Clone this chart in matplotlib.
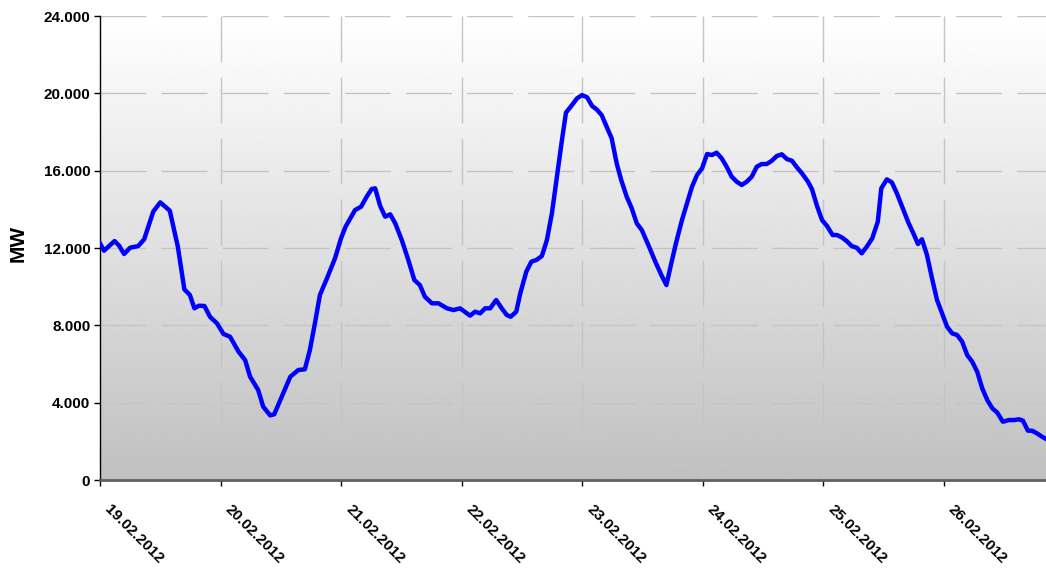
import numpy as np
import matplotlib
matplotlib.use('Agg')
import matplotlib.pyplot as plt
import matplotlib.transforms as mtransforms

plt.rcParams['font.family'] = ['Liberation Sans', 'DejaVu Sans']

# hours since 19.02.2012 00:00 and load in MW
hours = [0.0, 0.8, 2.9, 3.8, 4.8, 6.0, 7.6, 8.8, 10.6, 12.0, 13.9, 15.5, 16.8, 17.9,
         18.8, 19.7, 20.8, 21.9, 23.3, 24.6, 25.9, 27.6, 28.9, 29.9, 31.5, 32.5, 33.9,
         34.7, 36.5, 37.9, 39.5, 40.8, 41.8, 42.8, 43.8, 45.2, 46.8, 48.0, 48.9, 50.8,
         52.0, 53.1, 54.1, 54.8, 55.8, 56.8, 57.8, 58.8, 60.1, 61.4, 62.6, 63.7, 64.7,
         66.1, 67.4, 69.1, 70.4, 71.7, 73.7, 74.7, 75.7, 76.7, 77.7, 78.9, 80.0, 81.0,
         81.8, 82.9, 83.7, 84.9, 85.9, 86.9, 88.0, 89.0, 90.0, 91.0, 92.0, 92.8, 94.0,
         95.0, 96.0, 97.0, 98.0, 98.9, 99.9, 100.9, 101.9, 102.9, 103.8, 104.9, 105.9,
         106.9, 107.9, 109.2, 110.6, 111.8, 112.8, 113.7, 114.7, 115.9, 116.9, 117.9,
         118.9, 119.9, 120.9, 121.9, 122.8, 123.8, 124.8, 125.8, 126.8, 127.8, 128.8,
         129.8, 130.8, 131.8, 132.8, 133.8, 134.8, 135.8, 136.8, 137.8, 138.8, 139.8,
         141.0, 141.8, 142.8, 143.8, 144.8, 145.9, 146.8, 147.8, 148.7, 149.7, 150.7,
         151.7, 152.7, 153.8, 154.9, 155.6, 156.7, 157.7, 158.7, 160.0, 161.0, 162.0,
         162.9, 163.7, 164.7, 165.7, 166.7, 167.7, 168.7, 169.7, 170.7, 171.7, 172.7,
         173.7, 174.7, 175.7, 176.7, 177.7, 178.7, 179.8, 181.0, 182.0, 183.0, 183.8,
         184.8, 185.6, 186.6, 187.6, 188.2]
load_mw = [12240, 11860, 12360, 12120, 11690, 12015, 12100, 12450, 13880, 14360, 13930,
           12070, 9860, 9570, 8880, 9015, 9000, 8445, 8100, 7550, 7410, 6635, 6205, 5340,
           4655, 3790, 3340, 3400, 4485, 5340, 5690, 5725, 6725, 8100, 9570, 10430, 11465,
           12500, 13100, 13965, 14135, 14650, 15050, 15085, 14170, 13620, 13740, 13275,
           12410, 11380, 10345, 10085, 9480, 9140, 9140, 8880, 8790, 8880, 8500, 8705,
           8620, 8880, 8880, 9310, 8880, 8535, 8445, 8705, 9655, 10775, 11290, 11380,
           11585, 12410, 13795, 15690, 17585, 19000, 19395, 19740, 19910, 19800, 19345,
           19170, 18880, 18275, 17670, 16380, 15515, 14650, 14050, 13275, 12930, 12155,
           11290, 10600, 10085, 11120, 12240, 13445, 14310, 15170, 15775, 16120, 16860,
           16810, 16930, 16640, 16205, 15690, 15430, 15260, 15430, 15690, 16205, 16345,
           16345, 16515, 16760, 16845, 16600, 16515, 16170, 15860, 15430, 15035, 14170,
           13445, 13135, 12670, 12670, 12535, 12360, 12100, 12015, 11725, 12065, 12500,
           13360, 15085, 15550, 15395, 14830, 13965, 13310, 12750, 12205, 12450, 11635,
           10430, 9310, 8620, 7930, 7585, 7500, 7155, 6465, 6120, 5600, 4740, 4140, 3710,
           3485, 3015, 3100, 3100, 3140, 3070, 2550, 2550, 2415, 2240, 2155]

day_labels = ['19.02.2012', '20.02.2012', '21.02.2012', '22.02.2012',
              '23.02.2012', '24.02.2012', '25.02.2012', '26.02.2012']
y_ticks = [0, 4000, 8000, 12000, 16000, 20000, 24000]

fig = plt.figure(figsize=(10.46, 5.70), dpi=100)
ax = fig.add_axes([100/1046, 90/570, 946/1046, 464/570])

x_max = 188.4
ax.set_xlim(0, x_max)
ax.set_ylim(0, 24000)

# grey gradient background, white at top
grad = np.linspace(192, 255, 256).reshape(-1, 1) / 255.0
ax.imshow(grad, cmap='gray', vmin=0, vmax=1, aspect='auto', origin='lower',
          extent=[0, x_max, 0, 24000], zorder=0)

# dashed grid (long dashes, vertical ones start at the top)
for v in y_ticks[1:]:
    ax.axhline(v, color='#c4c4c4', lw=1.0, dashes=(33, 11), zorder=1)
day_pos = [24 * i for i in range(len(day_labels))]
for d in day_pos[1:]:
    ax.axvline(d, ymin=1, ymax=0, color='#c4c4c4', lw=1.0, dashes=(33, 11), zorder=1)

ax.plot(hours, load_mw, color='#0000ff', lw=3.2, solid_joinstyle='round', zorder=3)

ax.spines['top'].set_visible(False)
ax.spines['right'].set_visible(False)
ax.spines['left'].set_color('black')
ax.spines['left'].set_linewidth(1.0)
ax.spines['bottom'].set_color('#606060')
ax.spines['bottom'].set_linewidth(2.0)
ax.spines['bottom'].set_zorder(4)

ax.set_yticks(y_ticks)
ax.set_yticklabels(['0' if v == 0 else f'{v:,}'.replace(',', '.') for v in y_ticks],
                   fontsize=11, fontweight='bold')
ax.tick_params(axis='y', direction='out', length=4, width=1, pad=3)

ax.set_xticks(day_pos)
ax.set_xticklabels(day_labels, fontsize=11, fontweight='bold', rotation=-45,
                   ha='left', va='top', rotation_mode='anchor')
ax.tick_params(axis='x', direction='out', length=4, width=1, pad=12)
shift = mtransforms.ScaledTranslation(12/100, 0, fig.dpi_scale_trans)
for lab in ax.get_xticklabels():
    lab.set_transform(lab.get_transform() + shift)

ax.set_ylabel('MW', fontsize=15, fontweight='bold')
ax.yaxis.set_label_coords(-72/946, 0.51)

fig.savefig('out.png', dpi=100)
